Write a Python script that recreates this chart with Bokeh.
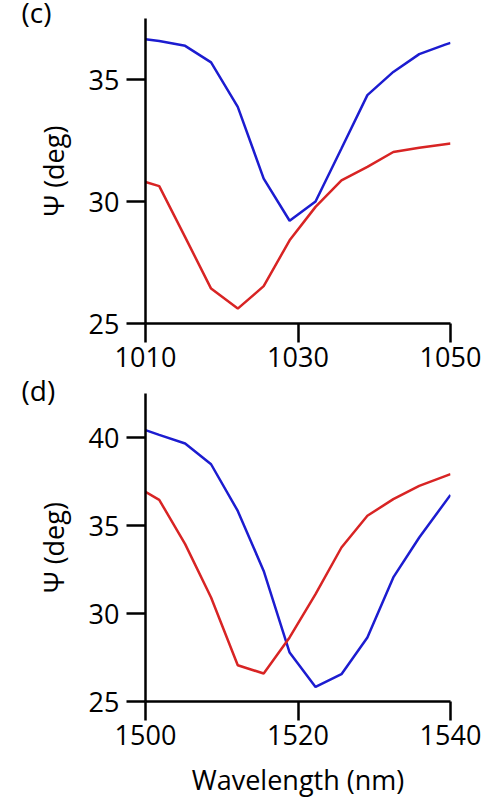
from bokeh.plotting import figure
from bokeh.layouts import column
from bokeh.models import FixedTicker, Range1d
from bokeh.embed import file_html
from bokeh.resources import INLINE

# Panel (c)
wl_c = [1010, 1011.8, 1015.2, 1018.6, 1022.1, 1025.5, 1028.9, 1032.3, 1035.7, 1039.1, 1042.5, 1045.9, 1049.3, 1050]
psi_c_blue = [36.65, 36.58, 36.38, 35.70, 33.88, 30.94, 29.21, 30.00, 32.17, 34.36, 35.31, 36.04, 36.43, 36.50]
psi_c_red = [30.80, 30.63, 28.54, 26.43, 25.61, 26.53, 28.41, 29.78, 30.87, 31.42, 32.03, 32.20, 32.35, 32.38]

# Panel (d)
wl_d = [1500, 1501.8, 1505.2, 1508.6, 1512.1, 1515.5, 1518.9, 1522.3, 1525.7, 1529.1, 1532.5, 1535.9, 1540]
psi_d_blue = [40.42, 40.15, 39.66, 38.48, 35.83, 32.42, 27.78, 25.83, 26.55, 28.64, 32.05, 34.32, 36.74]
psi_d_red = [36.91, 36.46, 33.94, 30.91, 27.06, 26.59, 28.64, 31.10, 33.75, 35.55, 36.50, 37.25, 37.92]

xticks_c = [1010, 1030, 1050]
yticks_c = [25, 30, 35]
xticks_d = [1500, 1520, 1540]
yticks_d = [25, 30, 35, 40]

FONT = "Open Sans"
BLUE = "#1c1cd0"
RED = "#d82424"


def make(x, yb, yr, xr, yrng, xt, yt, tag, top, bottom, fh, title_standoff, xlabel=None):
    p = figure(frame_width=305, frame_height=fh,
               x_range=Range1d(*xr), y_range=Range1d(*yrng),
               output_backend="svg", toolbar_location=None,
               min_border_left=145, min_border_right=37,
               min_border_top=top, min_border_bottom=bottom,
               title=tag, title_location="above")
    p.title.align = "left"
    p.title.vertical_align = "top"
    p.title.offset = -124
    p.title.standoff = title_standoff
    p.title.text_font = FONT
    p.title.text_font_size = "28px"
    p.title.text_font_style = "normal"
    p.title.text_color = "black"
    p.outline_line_color = None
    p.xgrid.visible = False
    p.ygrid.visible = False
    p.line(x, yb, line_color=BLUE, line_width=2.5)
    p.line(x, yr, line_color=RED, line_width=2.5)
    for ax, ticks in ((p.xaxis[0], xt), (p.yaxis[0], yt)):
        ax.ticker = FixedTicker(ticks=ticks, minor_ticks=[])
        ax.axis_line_width = 2.5
        ax.axis_line_color = "black"
        ax.major_tick_line_width = 2.5
        ax.major_tick_line_color = "black"
        ax.major_tick_in = 0
        ax.major_tick_out = 19
        ax.minor_tick_line_color = None
        ax.major_label_text_font = FONT
        ax.major_label_text_font_size = "27px"
        ax.major_label_text_color = "black"
        ax.axis_label_text_font = FONT
        ax.axis_label_text_font_size = "27px"
        ax.axis_label_text_font_style = "normal"
        ax.axis_label_text_color = "black"
    p.xaxis.major_label_standoff = 4
    p.yaxis.major_label_standoff = 7
    p.yaxis.axis_label = "Ψ (deg)"
    p.yaxis.axis_label_standoff = 14
    if xlabel:
        p.xaxis.axis_label = xlabel
        p.xaxis.axis_label_standoff = 13
    return p


p1 = make(wl_c, psi_c_blue, psi_c_red, (1010, 1050), (25, 37.5), xticks_c, yticks_c, "(c)", 18, 57, 305, -29)
p2 = make(wl_d, psi_d_blue, psi_d_red, (1500, 1540), (25, 42.5), xticks_d, yticks_d, "(d)", 13, 99, 308, -34,
          xlabel="Wavelength (nm)")

layout = column(p1, p2, spacing=0)
open("out.html", "w").write(file_html(layout, INLINE))
